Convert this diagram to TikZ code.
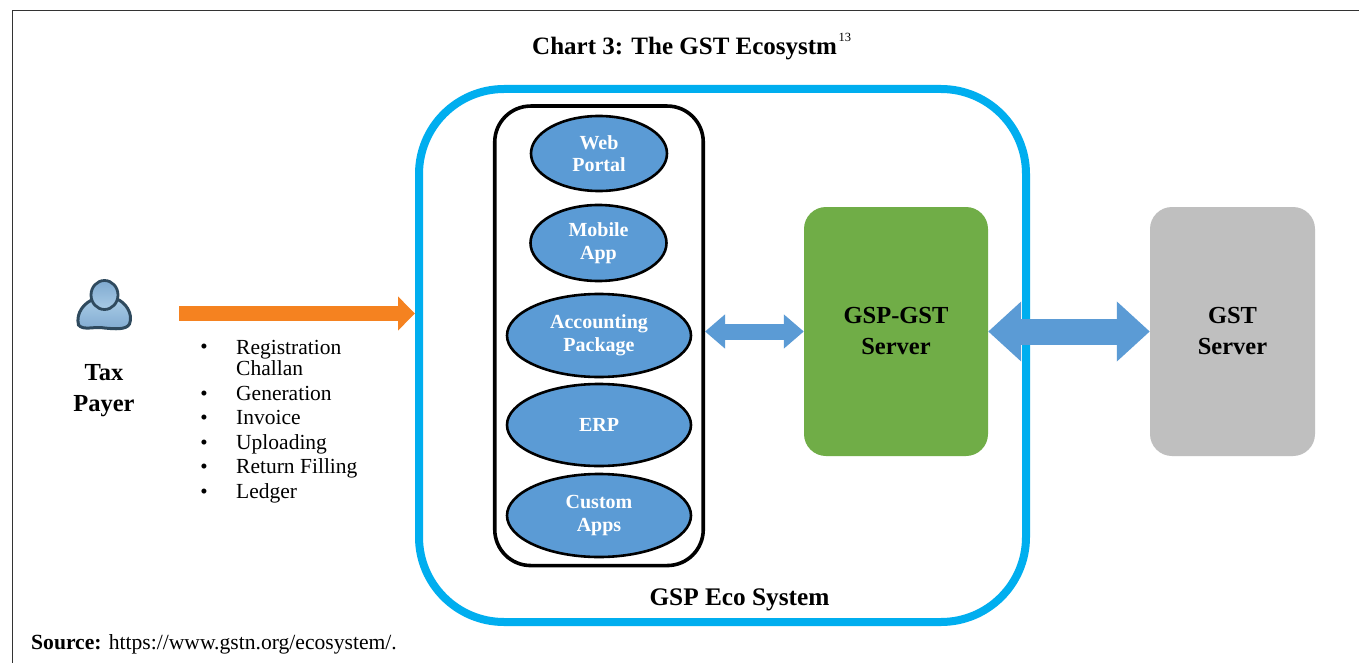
\documentclass[tikz,border=0pt]{standalone}
\usepackage{fontspec}
\setmainfont{Liberation Serif}
\usetikzlibrary{arrows.meta,shapes.geometric}
\definecolor{ecoblue}{HTML}{00AEEF}
\definecolor{fillblue}{HTML}{5B9BD5}
\definecolor{gspgreen}{HTML}{70AD47}
\definecolor{gstgrey}{HTML}{BFBFBF}
\definecolor{orangearrow}{HTML}{F58220}
\definecolor{iconedge}{HTML}{2F4A5E}
\definecolor{iconlight}{HTML}{A9CBE6}
\definecolor{iconmid}{HTML}{7FAAD0}
\tikzset{
  oval/.style={ellipse,draw=black,line width=2.6pt,fill=fillblue,text=white,inner sep=0pt,
    align=center,font=\fontsize{20}{22.5}\selectfont\bfseries},
  serverbox/.style={rounded corners=22pt,minimum width=184pt,minimum height=249pt,
    align=center,font=\fontsize{24.5}{31}\selectfont\bfseries,inner sep=0pt},
  listitem/.style={anchor=base west,inner sep=0pt,font=\fontsize{21.5}{24}\selectfont},
  bulletmark/.style={inner sep=0pt,font=\fontsize{21}{24}\selectfont},
  linkarrow/.style={fillblue,line width=#1},
}
\begin{document}
\begin{tikzpicture}[x=1pt,y=-1pt]
\useasboundingbox (0,0) rectangle (1359,663);
\fill[white] (0,0) rectangle (1359,663);
% frame
\draw[black!80,line width=1.5pt] (12.5,663) -- (12.5,10.5) -- (1359,10.5);
% title
\node[anchor=base west,inner sep=0pt,font=\fontsize{25}{28}\selectfont\bfseries] (title) at (532,55) {Chart 3: The GST Ecosystm};
\node[anchor=base west,inner sep=0pt,font=\fontsize{12.5}{14}\selectfont] (titlenote) at (838.5,42) {13};
% eco system
\node[draw=ecoblue,line width=8pt,rounded corners=85pt,minimum width=607pt,minimum height=533pt,inner sep=0pt] (eco) at (722.5,355.5) {};
\node[anchor=base,inner sep=0pt,font=\fontsize{25.3}{28}\selectfont\bfseries] (ecolabel) at (739.5,605) {GSP Eco System};
% panel
\node[draw=black,line width=3.6pt,rounded corners=36pt,minimum width=208.5pt,minimum height=459.5pt,inner sep=0pt] (panel) at (599,335.8) {};
\node[oval,minimum width=136pt,minimum height=75pt] (web) at (599,153.5) {Web\\Portal};
\node[oval,minimum width=136pt,minimum height=76pt] (mobile) at (598.5,243) {Mobile\\App};
\node[oval,minimum width=184pt,minimum height=83pt] (acc) at (599,335.5) {Accounting\\Package};
\node[oval,minimum width=184pt,minimum height=82pt] (erp) at (599,425) {ERP};
\node[oval,minimum width=184pt,minimum height=83pt] (custom) at (599,515.5) {Custom\\Apps};
% servers
\node[serverbox,fill=gspgreen,minimum width=184pt] (gsp) at (896,331.5) {GSP-GST\\Server};
\node[serverbox,fill=gstgrey,minimum width=165pt] (gst) at (1232.5,331.5) {GST\\Server};
% person
\begin{scope}[shift={(104.5,308)}]
  \path[draw=iconedge,line width=3pt,top color=iconlight,bottom color=iconmid]
    (-26,17) .. controls (-29,5) and (-20,-6) .. (-10,-9)
    .. controls (0,-5) and (3,-5) .. (12,-9)
    .. controls (21,-6) and (29,6) .. (25,16)
    .. controls (22,22) and (10,21) .. (0,20)
    .. controls (-10,18) and (-21,23) .. (-26,17) -- cycle;
  \path[draw=iconedge,line width=2.8pt,top color=iconmid,bottom color=iconlight] (0,-13) ellipse (13.5pt and 14.5pt);
\end{scope}
\node[inner sep=0pt,align=center,font=\fontsize{24.5}{31}\selectfont\bfseries] (payer) at (104,391) {Tax\\Payer};
% list
\node[bulletmark] (b1) at (204,348.5) {•};
\node[listitem] (l1) at (236,354) {Registration};
\node[listitem] (l1b) at (236,375.5) {Challan};
\node[bulletmark] (b2) at (204,395.5) {•};
\node[listitem] (l2) at (236,400) {Generation};
\node[bulletmark] (b3) at (204,419.5) {•};
\node[listitem] (l3) at (236,424.5) {Invoice};
\node[bulletmark] (b4) at (204,444.5) {•};
\node[listitem] (l4) at (236,449) {Uploading};
\node[bulletmark] (b5) at (204,468.5) {•};
\node[listitem] (l5) at (236,473.5) {Return Filling};
\node[bulletmark] (b6) at (204,493.5) {•};
\node[listitem] (l6) at (236,498) {Ledger};
% source
\node[anchor=base west,inner sep=0pt,font=\fontsize{21.6}{24}\selectfont] (source) at (31,649) {\textbf{Source:} https://www.gstn.org/ecosystem/.};
% connectors
\coordinate (orangestart) at (179,313.5);
\draw[orangearrow,line width=15pt,-{Triangle[length=17pt,width=33pt]}] (orangestart) -- (eco.west |- orangestart);
\draw[linkarrow=16pt,{Triangle[length=20pt,width=33pt]}-{Triangle[length=20pt,width=33pt]}] (panel.east |- gsp.west) -- (gsp.west);
\draw[linkarrow=26pt,{Triangle[length=33pt,width=58pt]}-{Triangle[length=33pt,width=58pt]}] (gsp.east) -- (gst.west);
\end{tikzpicture}
\end{document}
